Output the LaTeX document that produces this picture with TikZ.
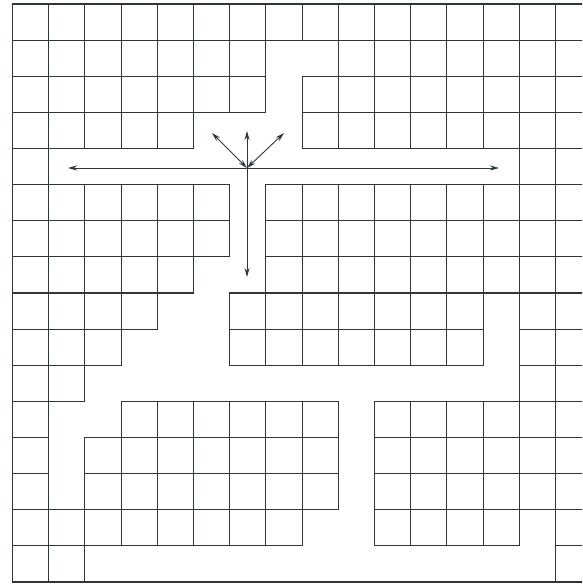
\documentclass[tikz,border=0pt]{standalone}
\usetikzlibrary{arrows.meta}
\definecolor{ink}{RGB}{45,55,60}
\begin{document}
\begin{tikzpicture}[x=1pt,y=-1pt,
  gridline/.style={draw=ink,line width=1.1pt,line cap=rect},
  arr/.style={draw=ink,line width=0.9pt,{Stealth[length=9pt,width=5pt]}-{Stealth[length=9pt,width=5pt]}}]
\useasboundingbox (0,0) rectangle (582,585);
\fill[white] (0,0) rectangle (582,585);
\begin{scope}
\clip (0,0) rectangle (582,585);
% horizontal segments: row / from column / to column
\foreach \rr/\ca/\cb in {0/0/16, 1/0/16,
  2/0/7, 2/8/16, 3/0/7, 3/8/16,
  4/0/5, 4/8/16,
  5/0/6, 5/7/16, 6/0/6, 6/7/16, 7/0/6, 7/7/16,
  8/0/5, 8/6/16,
  9/0/4, 9/6/13, 9/14/16,
  10/0/3, 10/6/13, 10/14/16,
  11/0/2, 11/3/9, 11/10/16,
  12/0/1, 12/2/9, 12/10/16,
  13/0/1, 13/2/9, 13/10/16,
  14/0/9, 14/10/16,
  15/0/8, 15/10/14, 15/15/16,
  16/0/16}
  \draw[gridline] ({12.5+36.2*\ca},{4+36.125*\rr}) -- ({12.5+36.2*\cb},{4+36.125*\rr});
% vertical segments: column / from row / to row
\foreach \cc/\ra/\rb in {0/0/16, 1/0/16,
  2/0/4, 2/5/11, 2/12/16,
  3/0/4, 3/5/10, 3/11/15,
  4/0/4, 4/5/9, 4/11/15,
  5/0/4, 5/5/8, 5/11/15,
  6/0/3, 6/5/7, 6/8/10, 6/11/15,
  7/0/3, 7/5/10, 7/11/15,
  8/0/1, 8/2/4, 8/5/10, 8/11/15,
  9/0/4, 9/5/10, 9/11/14,
  10/0/4, 10/5/10, 10/11/15,
  11/0/4, 11/5/10, 11/11/15,
  12/0/4, 12/5/10, 12/11/15,
  13/0/4, 13/5/10, 13/11/15,
  14/0/15, 15/0/16}
  \draw[gridline] ({12.5+36.2*\cc},{4+36.125*\ra}) -- ({12.5+36.2*\cc},{4+36.125*\rb});
\end{scope}
% traffic arrows
\coordinate (hub) at (247,168);
\coordinate (west) at (68,168);
\coordinate (east) at (499,168);
\coordinate (north) at (247,131);
\coordinate (south) at (247,277);
\coordinate (nw) at (212,133);
\coordinate (ne) at (284,133);
\draw[arr] (west) -- (east);
\draw[arr] (north) -- (south);
\draw[arr] (hub) -- (nw);
\draw[arr] (hub) -- (ne);
\end{tikzpicture}
\end{document}
